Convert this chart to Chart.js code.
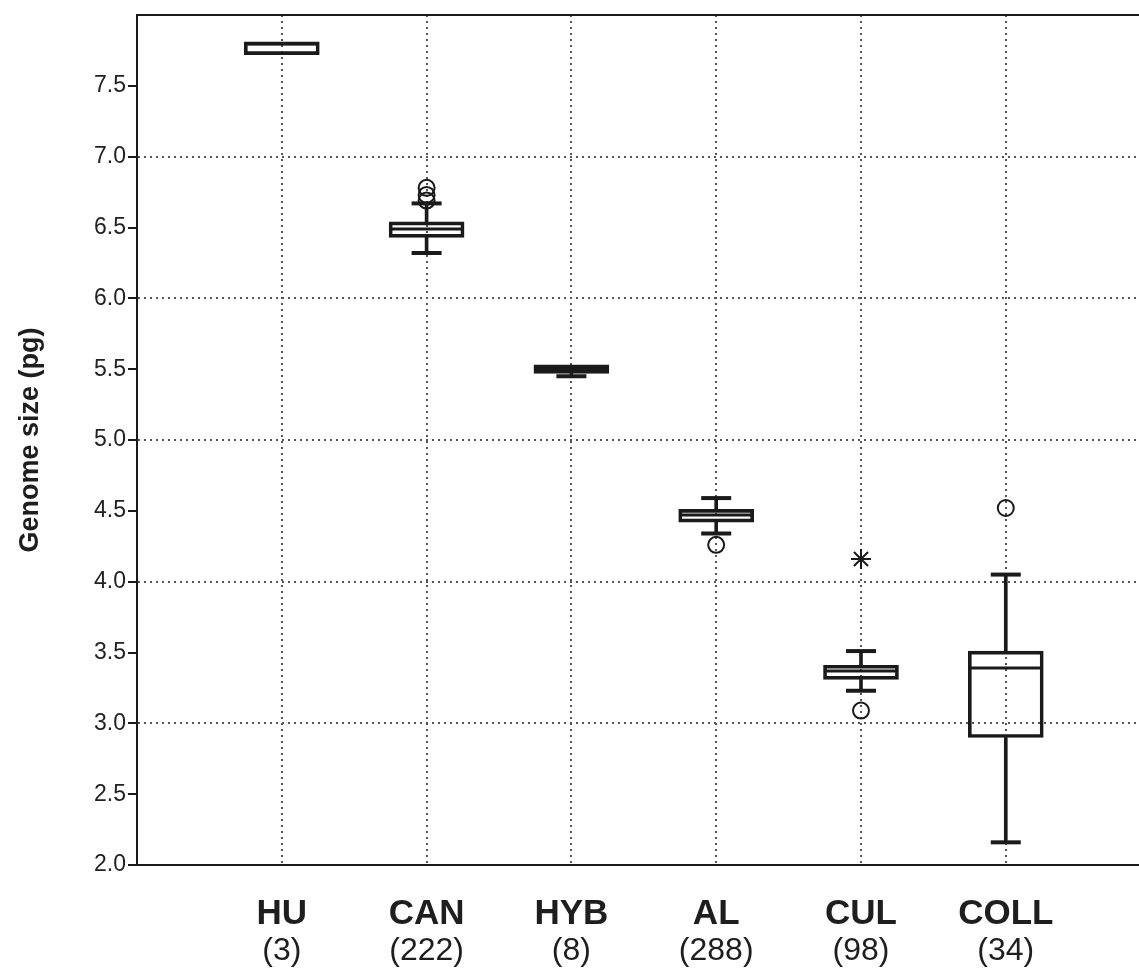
<!DOCTYPE html>
<html>
<head>
<meta charset="utf-8">
<script src="https://cdn.jsdelivr.net/npm/chart.js@4.4.1/dist/chart.umd.min.js"></script>
<style>
  html, body { margin: 0; padding: 0; background: #ffffff; }
  canvas { display: block; }
</style>
</head>
<body>
<canvas id="c" width="1139" height="971"></canvas>
<script>
// ---- data ----
const categories = ['HU', 'CAN', 'HYB', 'AL', 'CUL', 'COLL'];
const counts = ['(3)', '(222)', '(8)', '(288)', '(98)', '(34)'];
const q1Values = [7.72, 6.43, 5.47, 4.42, 3.31, 2.90];
const medianValues = [7.795, 6.49, 5.50, 4.47, 3.37, 3.39];
const q3Values = [7.81, 6.54, 5.53, 4.51, 3.41, 3.51];
const whiskerLow = [7.72, 6.32, 5.45, 4.34, 3.23, 2.16];
const whiskerHigh = [7.81, 6.67, 5.53, 4.59, 3.51, 4.05];
const outlierCategory = ['CAN', 'CAN', 'CAN', 'AL', 'CUL', 'COLL'];
const outlierValues = [6.78, 6.73, 6.69, 4.26, 3.09, 4.52];
const extremeCategory = ['CUL'];
const extremeValues = [4.16];
const yTickValues = [2.0, 2.5, 3.0, 3.5, 4.0, 4.5, 5.0, 5.5, 6.0, 6.5, 7.0, 7.5];

// ---- build datasets ----
const pos = (i) => i + 1;
const catPos = (name) => categories.indexOf(name) + 1;
const INK = '#1a1a1a';

const boxData = categories.map((c, i) => ({ x: pos(i), y: [q1Values[i], q3Values[i]] }));
const upperWhisker = categories.map((c, i) => ({ x: pos(i), y: [q3Values[i], whiskerHigh[i]] }))
  .filter((d) => d.y[1] > d.y[0]);
const lowerWhisker = categories.map((c, i) => ({ x: pos(i), y: [whiskerLow[i], q1Values[i]] }))
  .filter((d) => d.y[1] > d.y[0]);
const caps = [];
categories.forEach((c, i) => {
  if (whiskerHigh[i] > q3Values[i]) caps.push({ x: pos(i), y: whiskerHigh[i] });
  if (whiskerLow[i] < q1Values[i]) caps.push({ x: pos(i), y: whiskerLow[i] });
});
const medians = categories.map((c, i) => ({ x: pos(i), y: medianValues[i] }));
const outliers = outlierValues.map((v, i) => ({ x: catPos(outlierCategory[i]), y: v }));
const extremes = extremeValues.map((v, i) => ({ x: catPos(extremeCategory[i]), y: v }));

const gridDot = '#555555';
const FONT = "'Liberation Sans', Arial, Helvetica, sans-serif";
const XMAX = 6.92;

function zeroPad(axis) {
  axis.paddingLeft = 0; axis.paddingRight = 0; axis.paddingTop = 0; axis.paddingBottom = 0;
}

new Chart(document.getElementById('c'), {
  type: 'bar',
  data: {
    datasets: [
      { type: 'bar', data: boxData, grouped: false, barThickness: 75, backgroundColor: 'rgba(0,0,0,0)',
        borderColor: INK, borderWidth: 3, borderSkipped: false, order: 3 },
      { type: 'bar', data: upperWhisker, grouped: false, barThickness: 3, backgroundColor: INK,
        borderWidth: 0, order: 4 },
      { type: 'bar', data: lowerWhisker, grouped: false, barThickness: 3, backgroundColor: INK,
        borderWidth: 0, order: 4 },
      { type: 'line', data: caps, showLine: false, pointStyle: 'line', pointRadius: 15,
        pointBorderWidth: 4, pointBorderColor: INK, order: 2 },
      { type: 'line', data: medians, showLine: false, pointStyle: 'line', pointRadius: 36,
        pointBorderWidth: 3, pointBorderColor: INK, order: 2 },
      { type: 'line', data: outliers, showLine: false, pointStyle: 'circle', pointRadius: 8,
        pointBorderWidth: 2, pointBorderColor: INK, pointBackgroundColor: 'rgba(0,0,0,0)', order: 1 },
      { type: 'line', data: extremes, showLine: false, pointStyle: 'star', pointRadius: 10,
        pointBorderWidth: 2, pointBorderColor: INK, pointBackgroundColor: 'rgba(0,0,0,0)', order: 1 }
    ]
  },
  options: {
    responsive: false,
    animation: false,
    devicePixelRatio: 1,
    layout: { autoPadding: false, padding: { top: 15, right: 0, bottom: 0, left: 0 } },
    plugins: { legend: { display: false }, tooltip: { enabled: false } },
    scales: {
      x: {
        type: 'linear', position: 'bottom', min: 0, max: XMAX, offset: false, weight: 0,
        afterBuildTicks: (axis) => { axis.ticks = categories.map((c, i) => ({ value: pos(i) })); },
        afterFit: (axis) => { axis.height = 66; zeroPad(axis); },
        grid: { display: true, offset: false, drawTicks: false, color: gridDot, lineWidth: 2 },
        border: { display: true, color: INK, width: 2, dash: [2, 4] },
        ticks: {
          autoSkip: false, maxRotation: 0, padding: 28, color: '#1e1e1e',
          font: { family: FONT, size: 35, weight: 'bold' },
          callback: (v) => categories[Math.round(v) - 1] || ''
        }
      },
      x2: {
        type: 'linear', position: 'bottom', min: 0, max: XMAX, offset: false, weight: 1,
        afterBuildTicks: (axis) => { axis.ticks = categories.map((c, i) => ({ value: pos(i) })); },
        afterFit: (axis) => { axis.height = 40; zeroPad(axis); },
        grid: { display: false, offset: false, drawTicks: false },
        border: { display: false },
        ticks: {
          autoSkip: false, maxRotation: 0, padding: 1, color: '#1e1e1e',
          font: { family: FONT, size: 32 },
          callback: (v) => counts[Math.round(v) - 1] || ''
        }
      },
      xTop: {
        type: 'linear', position: 'top', min: 0, max: XMAX, offset: false,
        afterFit: (axis) => { axis.height = 0; zeroPad(axis); },
        grid: { display: false, drawTicks: false },
        border: { display: true, color: INK, width: 2 },
        ticks: { display: false }
      },
      y: {
        type: 'linear', min: 2, max: 8,
        afterBuildTicks: (axis) => { axis.ticks = yTickValues.map((v) => ({ value: v })); },
        afterFit: (axis) => { axis.width = 137; zeroPad(axis); },
        grid: {
          display: true, drawTicks: true, tickLength: 9, lineWidth: 2, tickWidth: 2,
          color: (ctx) => {
            const v = ctx.tick ? ctx.tick.value : null;
            return (v !== null && v > 2 && v < 8 && Math.abs(v - Math.round(v)) < 1e-6) ? gridDot : 'rgba(0,0,0,0)';
          },
          tickColor: INK, tickBorderDash: []
        },
        border: { display: true, color: INK, width: 2, dash: [2, 4] },
        ticks: {
          padding: 2, color: '#222222',
          font: { family: FONT, size: 23 },
          callback: (v) => Number(v).toFixed(1)
        },
        title: {
          display: true, text: 'Genome size (pg)', color: '#1e1e1e',
          font: { family: FONT, size: 27, weight: 'bold' },
          padding: { top: 14, bottom: 0 }
        }
      }
    }
  }
});
</script>
</body>
</html>
